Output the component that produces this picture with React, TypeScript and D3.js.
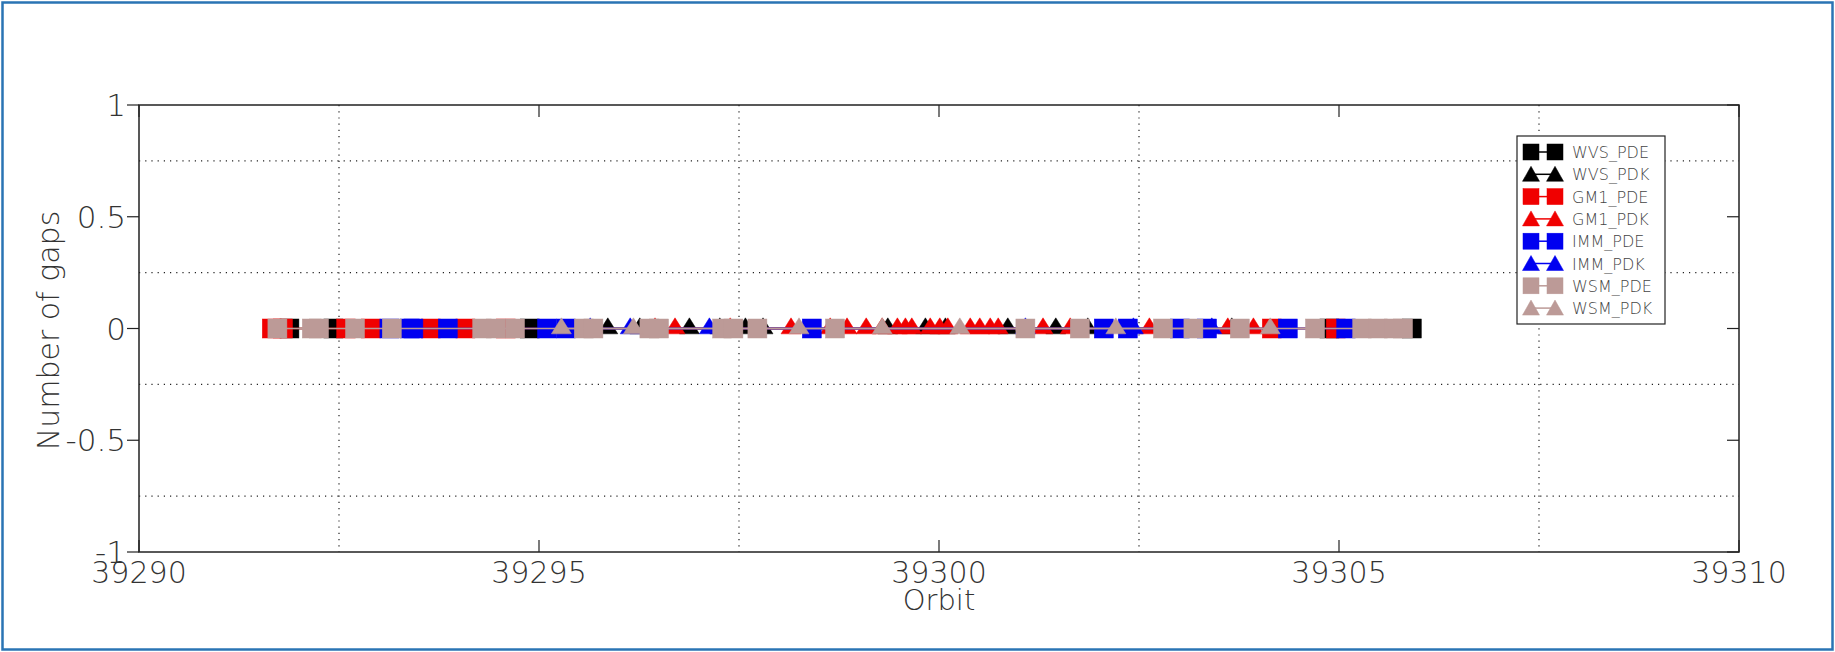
import React from 'react';
import * as d3 from 'd3';

// ---------- data ----------
const xTicks = [39290, 39295, 39300, 39305, 39310];
const yTicks = [1, 0.5, 0, -0.5, -1];
const xGrid = [39292.5, 39297.5, 39302.5, 39307.5];
const yGrid = [0.75, 0.25, -0.25, -0.75];

const wvsPdeOrbit = [39291.88, 39292.43, 39294.89, 39304.88, 39305.91];
const wvsPdeGaps = [0, 0, 0, 0, 0];

const wvsPdkOrbit = [39295.86, 39296.26, 39296.88, 39297.26, 39297.58, 39297.8, 39299.36, 39299.83, 39300.08, 39300.86, 39301.46, 39301.86, 39303.66];
const wvsPdkGaps = [0, 0, 0, 0, 0, 0, 0, 0, 0, 0, 0, 0, 0];

const gm1PdeOrbit = [39291.66, 39291.8, 39292.59, 39292.9, 39293.65, 39294.08, 39294.59, 39304.16, 39304.96];
const gm1PdeGaps = [0, 0, 0, 0, 0, 0, 0, 0, 0];

const gm1PdkOrbit = [39296.45, 39296.7, 39297.39, 39298.15, 39298.64, 39298.85, 39299.09, 39299.29, 39299.48, 39299.58, 39299.66, 39299.89, 39300.01, 39300.11, 39300.39, 39300.51, 39300.64, 39300.74, 39301.3, 39301.64, 39302.63, 39303.61, 39303.93];
const gm1PdkGaps = [0, 0, 0, 0, 0, 0, 0, 0, 0, 0, 0, 0, 0, 0, 0, 0, 0, 0, 0, 0, 0, 0, 0];

const immPdeOrbit = [39293.13, 39293.39, 39293.43, 39293.86, 39295.1, 39295.34, 39298.41, 39302.06, 39302.36, 39303.01, 39303.35, 39304.36, 39305.09];
const immPdeGaps = [0, 0, 0, 0, 0, 0, 0, 0, 0, 0, 0, 0, 0];

const immPdkOrbit = [39295.64, 39296.14, 39297.13, 39301.08, 39302.43, 39303.41];
const immPdkGaps = [0, 0, 0, 0, 0, 0];

const wsmPdeOrbit = [39291.73, 39292.16, 39292.25, 39292.7, 39293.16, 39294.29, 39294.46, 39294.7, 39295.56, 39295.68, 39296.38, 39296.5, 39297.29, 39297.43, 39297.73, 39298.7, 39301.08, 39301.76, 39302.8, 39303.18, 39303.76, 39304.7, 39305.29, 39305.49, 39305.69, 39305.8];
const wsmPdeGaps = [0, 0, 0, 0, 0, 0, 0, 0, 0, 0, 0, 0, 0, 0, 0, 0, 0, 0, 0, 0, 0, 0, 0, 0, 0, 0];

const wsmPdkOrbit = [39295.28, 39296.18, 39298.25, 39299.29, 39300.26, 39302.21, 39304.14];
const wsmPdkGaps = [0, 0, 0, 0, 0, 0, 0];

const seriesNames = ['WVS_PDE', 'WVS_PDK', 'GM1_PDE', 'GM1_PDK', 'IMM_PDE', 'IMM_PDK', 'WSM_PDE', 'WSM_PDK'];
const seriesColors = ['#000000', '#000000', '#f00000', '#f00000', '#0000f0', '#0000f0', '#bc9a97', '#bc9a97'];
const seriesShapes = ['square', 'triangle', 'square', 'triangle', 'square', 'triangle', 'square', 'triangle'];
const seriesOrbits = [wvsPdeOrbit, wvsPdkOrbit, gm1PdeOrbit, gm1PdkOrbit, immPdeOrbit, immPdkOrbit, wsmPdeOrbit, wsmPdkOrbit];
const seriesGaps = [wvsPdeGaps, wvsPdkGaps, gm1PdeGaps, gm1PdkGaps, immPdeGaps, immPdkGaps, wsmPdeGaps, wsmPdkGaps];

// ---------- layout ----------
const W = 1835;
const H = 652;
const left = 139, right = 1739, top = 105, bottom = 552;
const FONT = "'DejaVu Sans', sans-serif";
const TXT = '#333';

function Marker({ shape, cx, cy, color, s, tw, th }: any) {
  if (shape === 'square') {
    return <rect x={cx - s / 2} y={cy - s / 2} width={s} height={s} fill={color} stroke={color} strokeWidth={0.5} />;
  }
  const pts = `${cx},${cy - (2 * th) / 3} ${cx - tw / 2},${cy + th / 3} ${cx + tw / 2},${cy + th / 3}`;
  return <polygon points={pts} fill={color} stroke={color} strokeWidth={0.5} />;
}

export default function App() {
  const x = d3.scaleLinear().domain([39290, 39310]).range([left, right]);
  const y = d3.scaleLinear().domain([-1, 1]).range([bottom, top]);
  const line = d3.line<[number, number]>().x(d => x(d[0])).y(d => y(d[1]));

  const legX = 1517, legY = 136, legW = 148, legH = 188;
  const rowH = 22.3;

  return (
    <svg width={W} height={H} style={{ position: 'absolute', left: 0, top: 0, background: '#fff' }}>
      <rect x={0} y={0} width={W} height={H} fill="#fff" />
      <rect x={2.5} y={2.5} width={W - 5} height={H - 5} fill="none" stroke="#2a74b4" strokeWidth={2.5} />

      {/* grid */}
      {xGrid.map(g => (
        <line key={'xg' + g} x1={x(g)} x2={x(g)} y1={top} y2={bottom} stroke="#222" strokeWidth={1.2} strokeDasharray="1.2,5" />
      ))}
      {yGrid.map(g => (
        <line key={'yg' + g} x1={left} x2={right} y1={y(g)} y2={y(g)} stroke="#222" strokeWidth={1.2} strokeDasharray="1.2,5" />
      ))}

      {/* series */}
      {seriesNames.map((name, i) => {
        const pts: [number, number][] = seriesOrbits[i].map((o, k) => [o, seriesGaps[i][k]]);
        return (
          <g key={name}>
            <path d={line(pts) || ''} fill="none" stroke={seriesColors[i]} strokeWidth={1.5} />
            {pts.map((p, k) => (
              <Marker key={k} shape={seriesShapes[i]} cx={x(p[0])} cy={y(p[1])} color={seriesColors[i]} s={19} tw={20} th={16} />
            ))}
          </g>
        );
      })}

      {/* frame */}
      <rect x={left} y={top} width={right - left} height={bottom - top} fill="none" stroke="#222" strokeWidth={1.5} />

      {/* ticks */}
      {xTicks.map(t => (
        <g key={'xt' + t}>
          <line x1={x(t)} x2={x(t)} y1={bottom} y2={bottom - 12} stroke="#222" strokeWidth={1.2} />
          <line x1={x(t)} x2={x(t)} y1={top} y2={top + 12} stroke="#222" strokeWidth={1.2} />
          <text x={x(t)} y={583} textAnchor="middle" fontFamily={FONT} fontWeight={200} fontSize={30} fill={TXT}>{t}</text>
        </g>
      ))}
      {yTicks.map(t => (
        <g key={'yt' + t}>
          <line x1={left} x2={left - 12} y1={y(t)} y2={y(t)} stroke="#222" strokeWidth={1.2} />
          <line x1={right} x2={right - 12} y1={y(t)} y2={y(t)} stroke="#222" strokeWidth={1.2} />
          <text x={126} y={y(t) + 11} textAnchor="end" fontFamily={FONT} fontWeight={200} fontSize={31} fill={TXT}>{t}</text>
        </g>
      ))}

      {/* axis labels */}
      <text x={x(39300)} y={610} textAnchor="middle" fontFamily={FONT} fontWeight={200} fontSize={29} fill={TXT}>Orbit</text>
      <text transform={`translate(59, ${(top + bottom) / 2 + 2}) rotate(-90)`} textAnchor="middle" fontFamily={FONT} fontWeight={200} fontSize={30} fill={TXT}>Number of gaps</text>

      {/* legend */}
      <rect x={legX} y={legY} width={legW} height={legH} fill="#fff" stroke="#222" strokeWidth={1.2} />
      {seriesNames.map((name, i) => {
        const cy = legY + 16 + i * rowH;
        const tri = seriesShapes[i] === 'triangle';
        return (
          <g key={'lg' + name}>
            <line x1={1531} x2={1555} y1={cy} y2={cy} stroke={seriesColors[i]} strokeWidth={1.5} />
            <Marker shape={seriesShapes[i]} cx={1531} cy={cy + (tri ? 2 : 0)} color={seriesColors[i]} s={16} tw={17} th={15} />
            <Marker shape={seriesShapes[i]} cx={1555} cy={cy + (tri ? 2 : 0)} color={seriesColors[i]} s={16} tw={17} th={15} />
            <text x={1572} y={cy + 6} fontFamily={FONT} fontWeight={200} fontSize={16} fill="#444">{name}</text>
          </g>
        );
      })}
    </svg>
  );
}
